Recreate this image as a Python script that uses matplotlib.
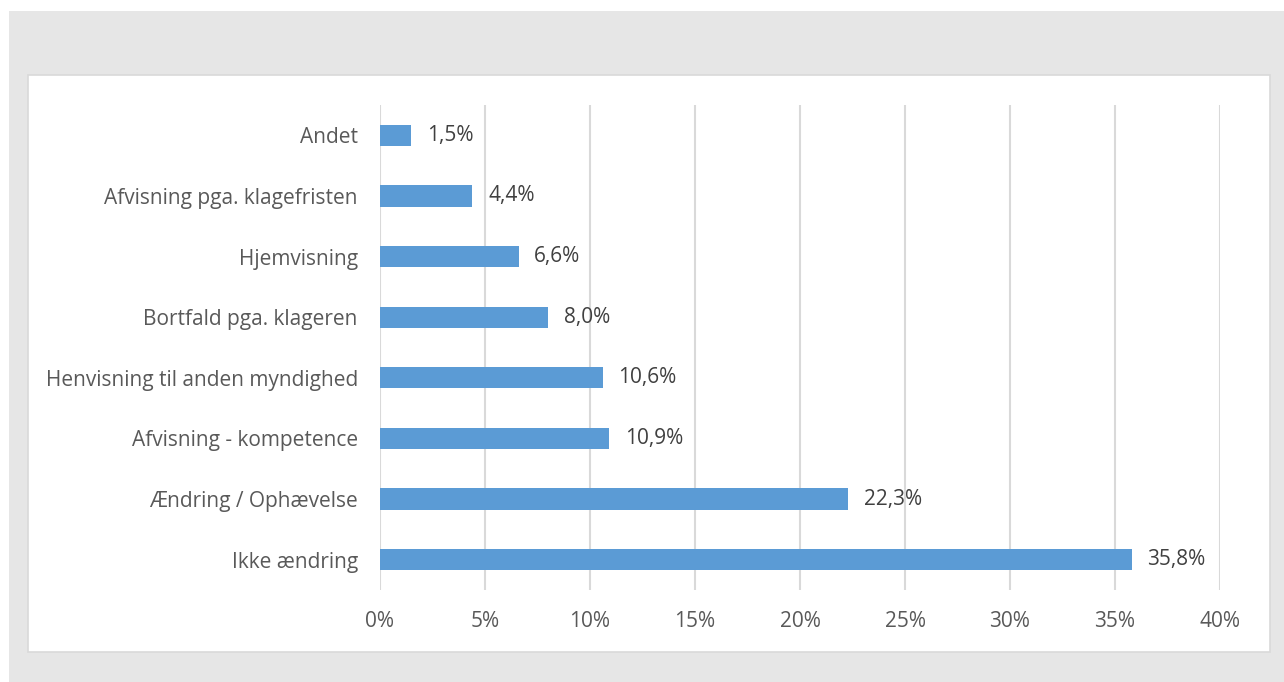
import matplotlib.pyplot as plt
from matplotlib.patches import Rectangle

# Data (bottom to top)
categories = ["Ikke ændring", "Ændring / Ophævelse", "Afvisning - kompetence",
              "Henvisning til anden myndighed", "Bortfald pga. klageren",
              "Hjemvisning", "Afvisning pga. klagefristen", "Andet"]
values = [35.8, 22.3, 10.9, 10.6, 8.0, 6.6, 4.4, 1.5]
xticks = [0, 5, 10, 15, 20, 25, 30, 35, 40]

plt.rcParams['font.family'] = ['Open Sans', 'DejaVu Sans']
txt = '#595959'
fs = 15

W, H = 1284, 682
fig = plt.figure(figsize=(W / 100, H / 100), dpi=100, facecolor='white')

# gray background and white chart panel
fig.patches.append(Rectangle((9 / W, 0), 1 - 9 / W, 1 - 11 / H, transform=fig.transFigure,
                             facecolor='#e6e6e6', edgecolor='none', zorder=-3))
fig.patches.append(Rectangle((28 / W, 1 - 652 / H), (1270 - 28) / W, (652 - 75) / H,
                             transform=fig.transFigure, facecolor='white',
                             edgecolor='#d9d9d9', linewidth=1.2, zorder=-2))

ax = fig.add_axes([380 / W, 1 - 590 / H, (1220 - 380) / W, (590 - 105) / H])
ax.set_facecolor('none')

ax.barh(range(len(values)), values, height=0.35, color='#5b9bd5', zorder=3)
for i, v in enumerate(values):
    ax.text(v + 0.75, i, f"{v:.1f}".replace('.', ',') + '%', va='center', ha='left',
            fontsize=fs, color='#404040')

ax.set_xlim(0, 40)
ax.set_ylim(-0.5, len(values) - 0.5)
ax.set_xticks(xticks)
ax.set_xticklabels([f"{t}%" for t in xticks], fontsize=fs, color=txt)
ax.set_yticks(range(len(categories)))
ax.set_yticklabels(categories, fontsize=fs, color=txt)
ax.tick_params(axis='both', length=0)
ax.tick_params(axis='x', pad=15)
ax.tick_params(axis='y', pad=16)
ax.xaxis.grid(True, color='#d9d9d9', linewidth=1.5, zorder=0)
ax.set_axisbelow(True)
for s in ax.spines.values():
    s.set_visible(False)

fig.savefig('out.png', dpi=100, facecolor='white')
